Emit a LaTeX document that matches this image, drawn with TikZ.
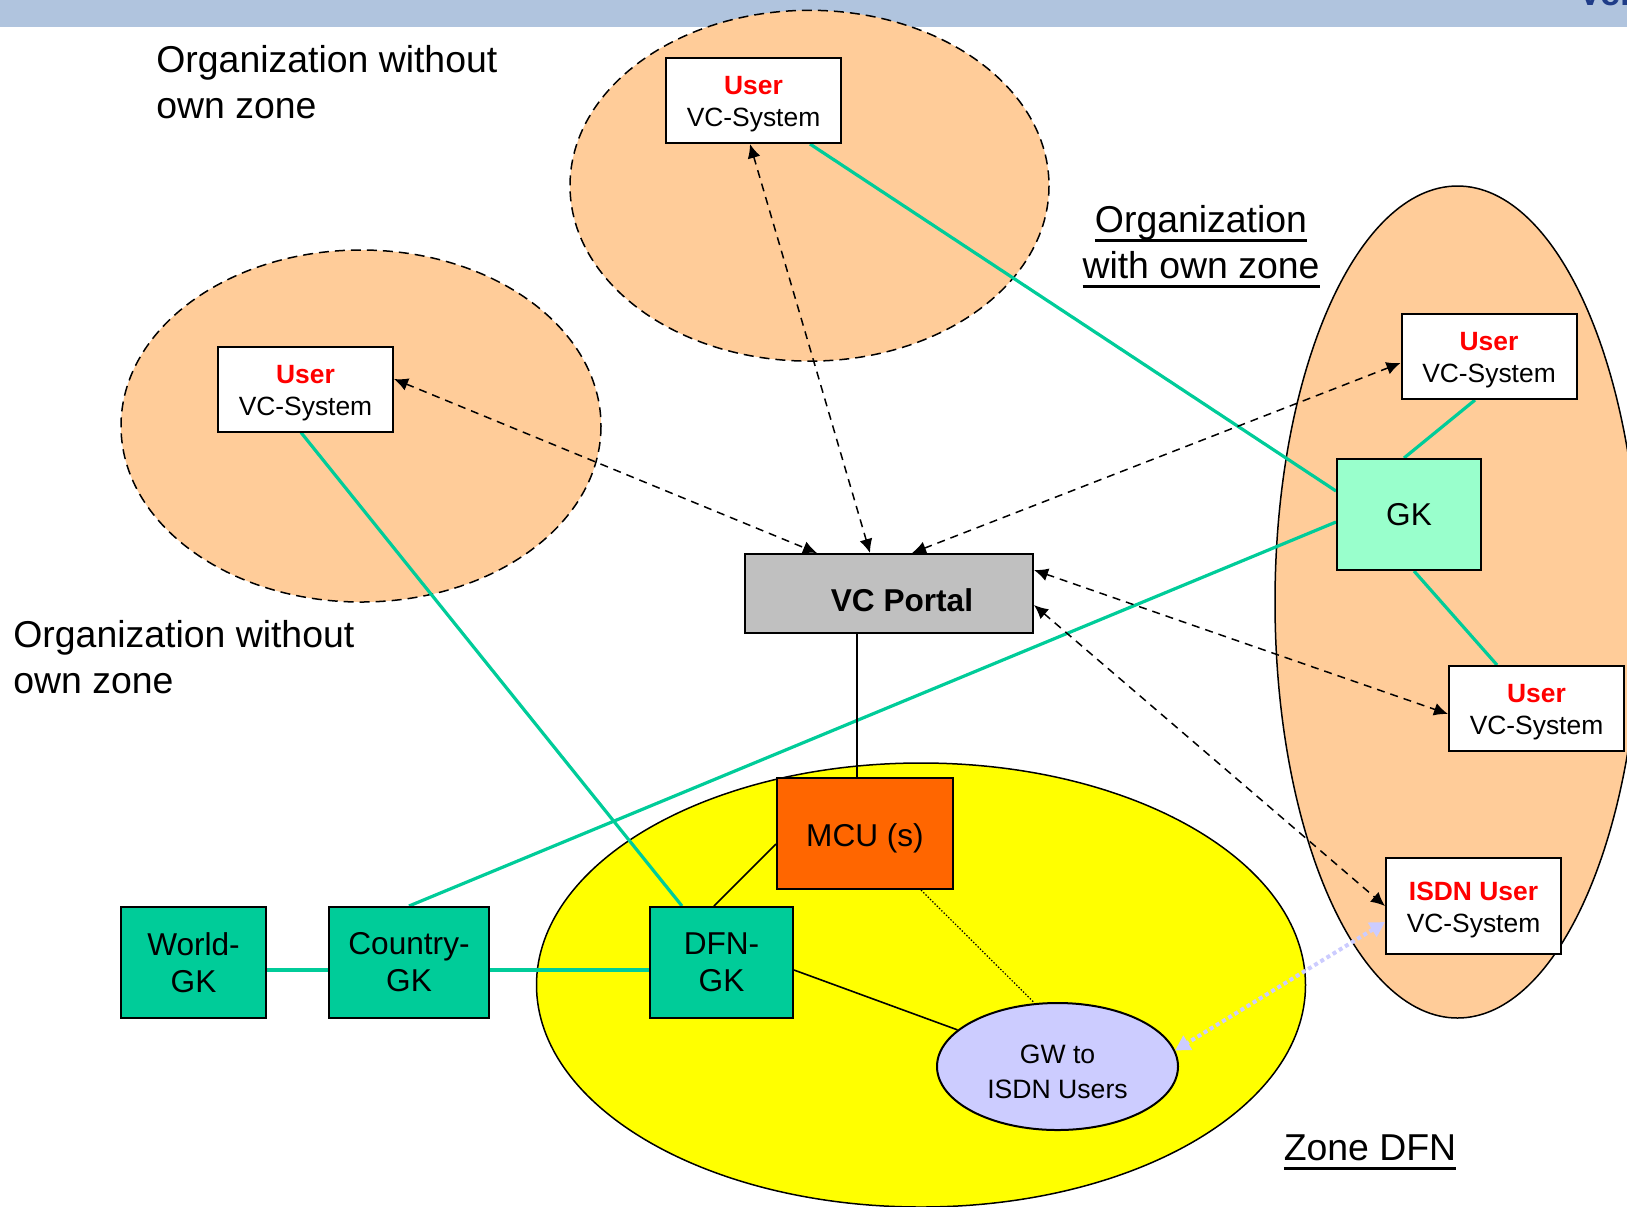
\documentclass[tikz,border=0pt]{standalone}
\usepackage{fontspec}
\setmainfont{Liberation Sans}
\usetikzlibrary{arrows.meta,calc,shapes.geometric}
\definecolor{peach}{HTML}{FFCC99}
\definecolor{zoneyellow}{HTML}{FFFF00}
\definecolor{mcuorange}{HTML}{FF6600}
\definecolor{vcgrey}{HTML}{C0C0C0}
\definecolor{gkdark}{HTML}{00CC99}
\definecolor{gklight}{HTML}{99FFCC}
\definecolor{gwlav}{HTML}{CCCCFF}
\definecolor{barblue}{HTML}{B0C4DE}
\definecolor{navytext}{HTML}{1F3C88}
\definecolor{userred}{HTML}{FF0000}
\newcommand\usertag[1]{{\color{userred}\bfseries #1}}
\newcommand\myul[1]{\setbox0\hbox{#1}\rlap{\rule[-4.8pt]{\wd0}{1.2pt}}\box0}
\newcommand\lowr[2]{\raisebox{-#1}[\height][\depth]{#2}}
\pgfdeclarelayer{bg}
\pgfdeclarelayer{mid}
\pgfsetlayers{bg,mid,main}
\begin{document}
\begin{tikzpicture}[x=0.5pt,y=-0.5pt,
  zonedash/.style={draw=black,fill=peach,line width=0.75pt,dash pattern=on 5pt off 3pt},
  zonesolid/.style={draw=black,line width=0.75pt},
  userbox/.style={draw=black,fill=white,line width=1pt,minimum width=87.5pt,minimum height=42.5pt,inner sep=0pt,align=center,font=\fontsize{13.2}{16}\selectfont},
  gkbox/.style={draw=black,line width=1pt,minimum height=55.5pt,inner sep=0pt,align=center,font=\fontsize{15.8}{18.5}\selectfont},
  gwell/.style={ellipse,draw=black,fill=gwlav,line width=1pt,minimum width=120.5pt,minimum height=63.5pt,inner sep=0pt,align=center,font=\fontsize{13.3}{17.5}\selectfont},
  lbl/.style={inner sep=0pt,font=\fontsize{18.7}{23}\selectfont},
  gline/.style={draw=gkdark,line width=1.6pt},
  bline/.style={draw=black,line width=0.8pt},
  dotline/.style={draw=black,line width=0.6pt,dash pattern=on 0.7pt off 0.9pt},
  darr/.style={draw=black,line width=0.75pt,dash pattern=on 4pt off 3pt,{Latex[length=7pt,width=6.5pt]}-{Latex[length=7pt,width=6.5pt]}},
  lavarr/.style={draw=gwlav,line width=2pt,dash pattern=on 2pt off 1.6pt,{Triangle[length=7.5pt,width=8pt]}-{Triangle[length=7.5pt,width=8pt]}}
]
\useasboundingbox (0,0) rectangle (1627,1206);
\clip (0,0) rectangle (1627,1206);

\begin{pgfonlayer}{bg}
  \fill[barblue] (0,0) rectangle (1627,27);
  \node[anchor=base west,inner sep=0pt,text=navytext,font=\bfseries\fontsize{18}{20}\selectfont] (ver) at (1578,5) {Ver};
  \path[zonedash] (809.5,185.7) ellipse [x radius=239.5, y radius=175.4];
  \path[zonedash] (361,426) ellipse [x radius=240, y radius=176];
  \path[zonesolid,fill=peach] (1457.5,602) ellipse [x radius=182.5, y radius=416];
  \path[zonesolid,fill=zoneyellow] (921,985) ellipse [x radius=384.5, y radius=222];
\end{pgfonlayer}

% nodes
\node[userbox] (ut) at (753.5,100.5) {\lowr{2pt}{\usertag{User}}\\\lowr{2pt}{VC-System}};
\node[userbox] (ul) at (305.5,389) {\lowr{2pt}{\usertag{User}}\\\lowr{2pt}{VC-System}};
\node[userbox] (uru) at (1489,356.5) {\lowr{2pt}{\usertag{User}}\\\lowr{2pt}{VC-System}};
\node[userbox] (url) at (1536.5,708.5) {\lowr{2pt}{\usertag{User}}\\\lowr{2pt}{VC-System}};
\node[userbox,minimum height=48pt] (isdn) at (1473.5,906) {\lowr{2pt}{\usertag{ISDN User}}\\\lowr{2pt}{VC-System}};
\node[gkbox,fill=gklight,minimum width=72pt] (gk) at (1409,514.5) {GK};
\node[gkbox,fill=vcgrey,minimum width=144pt,minimum height=39.5pt,font=\bfseries\fontsize{15.8}{18.5}\selectfont] (vc) at (889,593.5) {\hspace*{13pt}\lowr{3.5pt}{VC Portal}};
\node[gkbox,fill=mcuorange,minimum width=88pt] (mcu) at (865,833.5) {\lowr{2.5pt}{MCU (s)}};
\node[gkbox,fill=gkdark,minimum width=71.5pt] (dfn) at (721.5,962.5) {DFN-\\GK};
\node[gkbox,fill=gkdark,minimum width=80pt] (country) at (409,962.5) {Country-\\GK};
\node[gkbox,fill=gkdark,minimum width=72.5pt] (world) at (193.5,962.5) {World-\\GK};
\node[gwell] (gw) at (1057.5,1066.5) {\lowr{2.5pt}{GW to}\\\lowr{2.5pt}{ISDN Users}};

% labels
\node[lbl,anchor=base west] (lab1) at (156,72) {\begin{tabular}[t]{@{}l@{}}Organization without\\own zone\end{tabular}};
\node[lbl,anchor=base west] (lab2) at (13,647) {\begin{tabular}[t]{@{}l@{}}Organization without\\own zone\end{tabular}};
\node[lbl,anchor=base] (lab3) at (1201,232) {\begin{tabular}[t]{@{}c@{}}\myul{Organization}\\\myul{with own zone}\end{tabular}};
\node[lbl,anchor=base] (lab4) at (1370,1160) {\myul{Zone DFN}};

\begin{pgfonlayer}{mid}
  % green gatekeeper links
  \draw[gline] ([shift={(56.5,0)}]ut.south) -- ([shift={(0,-23.5)}]gk.west);
  \draw[gline] ([shift={(-4.5,0)}]ul.south) -- ([shift={(-39.5,0)}]dfn.north);
  \draw[gline] (country.north) -- ([shift={(0,7.5)}]gk.west);
  \draw[gline] ([shift={(0,7.5)}]world.east) -- ([shift={(0,7.5)}]country.west);
  \draw[gline] ([shift={(0,7.5)}]country.east) -- ([shift={(0,7.5)}]dfn.west);
  \draw[gline] ([shift={(-5,0)}]gk.north) -- ([shift={(-14,0)}]uru.south);
  \draw[gline] ([shift={(5,0)}]gk.south) -- ([shift={(-39.5,0)}]url.north);
  % black links
  \draw[bline] ([shift={(-32,0)}]vc.south) -- ([shift={(-8,0)}]mcu.north);
  \draw[bline] ([shift={(0,10.5)}]mcu.west) -- ([shift={(-7.5,0)}]dfn.north);
  \draw[bline] ([shift={(0,7.5)}]dfn.east) -- (gw);
  \draw[dotline] ([shift={(56,0)}]mcu.south) -- ([shift={(-24,0)}]gw.north);
  % dashed arrows
  \draw[darr] ([shift={(-3.5,0)}]ut.south) -- ([shift={(-19,0)}]vc.north);
  \draw[darr] ([shift={(0,-10)}]ul.east) -- ([shift={(-72,0)}]vc.north);
  \draw[darr] ([shift={(23,0)}]vc.north) -- ([shift={(0,6.5)}]uru.west);
  \draw[darr] ([shift={(0,-23.5)}]vc.east) -- ([shift={(0,5.5)}]url.west);
  \draw[darr] ([shift={(0,11.5)}]vc.east) -- (isdn.west);
  \draw[lavarr] ([shift={(0,16)}]isdn.west) -- ([shift={(-4,-16)}]gw.east);
\end{pgfonlayer}
\end{tikzpicture}
\end{document}
